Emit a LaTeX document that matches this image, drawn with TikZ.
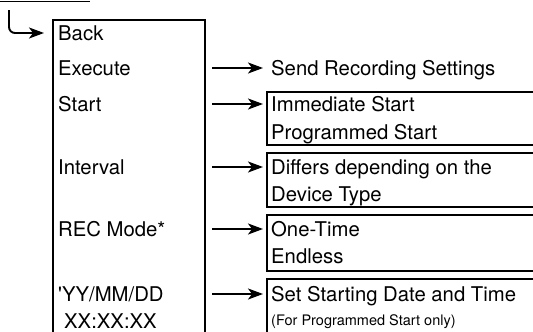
\documentclass[tikz,border=0pt]{standalone}
\usepackage{fontspec}
\setmainfont{TeX Gyre Heros}
\usetikzlibrary{arrows.meta}
\begin{document}
\begin{tikzpicture}[x=1pt,y=-1pt,
  lbl/.style={anchor=base west, inner sep=0pt, font=\fontsize{20.3}{24}\selectfont},
  sml/.style={anchor=base west, inner sep=0pt, font=\fontsize{14.5}{17}\selectfont},
  frame/.style={draw, line width=1.4pt},
  arr/.style={line width=1.9pt, -{Stealth[length=15pt,width=11pt,inset=4pt]}}]
\useasboundingbox (0,0) rectangle (533,332);

% top rule and hook arrow
\draw[line width=1.4pt] (0,1.2) -- (90,1.2);
\coordinate (h0) at (9,10);
\coordinate (h1) at (44,33);
\draw[arr, rounded corners=6pt] (h0) |- (h1);

% left menu box
\draw[frame] (53,340) -- (53,20) -- (205,20) -- (205,340);
\node[lbl] (back) at (58,40) {Back};
\node[lbl] (exec) at (58,75) {Execute};
\node[lbl] (start) at (58,111) {Start};
\node[lbl] (intv) at (58,174) {Interval};
\node[lbl] (rec) at (58,236) {REC Mode*};
\node[lbl] (date) at (58,301) {\textquotesingle YY/MM/DD};
\node[lbl] (time) at (64,328) {XX:XX:XX};

% right boxes
\draw[frame] (267,92) rectangle (545,145);
\draw[frame] (267,153) rectangle (545,207);
\draw[frame] (267,215) rectangle (545,271);
\draw[frame] (267,279) rectangle (545,345);

\node[lbl] (send) at (271,75) {Send Recording Settings};
\node[lbl] (imm) at (271,111) {Immediate Start};
\node[lbl] (prog) at (271,139) {Programmed Start};
\node[lbl] (diff) at (271,174) {Differs depending on the};
\node[lbl] (dev) at (271,201) {Device Type};
\node[lbl] (one) at (271,236) {One-Time};
\node[lbl] (endl) at (271,263) {Endless};
\node[lbl] (set) at (271,301) {Set Starting Date and Time};
\node[sml] (note) at (271,325) {(For Programmed Start only)};

% arrows
\foreach \n/\y in {a/68,b/104,c/167,d/229,e/294}{
  \coordinate (s\n) at (212,\y);
  \coordinate (t\n) at (263,\y);
}
\draw[arr] (sa) -- (ta);
\draw[arr] (sb) -- (tb);
\draw[arr] (sc) -- (tc);
\draw[arr] (sd) -- (td);
\draw[arr] (se) -- (te);
\end{tikzpicture}
\end{document}
